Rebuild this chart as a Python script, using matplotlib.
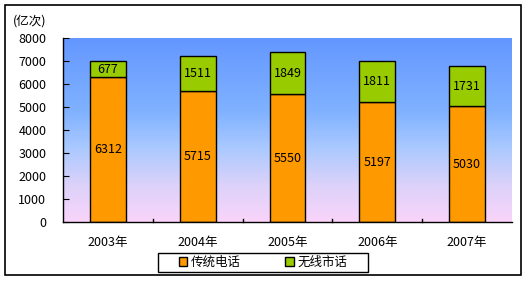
import matplotlib
matplotlib.use("Agg")
import matplotlib.pyplot as plt
import numpy as np
from matplotlib.colors import LinearSegmentedColormap
from matplotlib.patches import Rectangle

plt.rcParams['font.family'] = ['Noto Sans CJK SC', 'DejaVu Sans']

years = ['2003年', '2004年', '2005年', '2006年', '2007年']
traditional = [6312, 5715, 5550, 5197, 5030]
wireless = [677, 1511, 1849, 1811, 1731]
series_names = ['传统电话', '无线市话']
yticks = [0, 1000, 2000, 3000, 4000, 5000, 6000, 7000, 8000]

fig = plt.figure(figsize=(5.28, 2.81), dpi=100)
# outer frame
fig.patches.append(Rectangle((5/528, 1 - 275/281), (521-5)/528, (275-5)/281,
                             transform=fig.transFigure, fill=False, lw=1.2, ec='black'))
# legend frame
fig.patches.append(Rectangle((158/528, 1 - 272/281), (368-158)/528, (272-253)/281,
                             transform=fig.transFigure, fill=False, lw=1, ec='black'))

ax = fig.add_axes([63/528, 1 - 222/281, (512-63)/528, (222-38)/281])
x = np.arange(len(years))
ax.set_xlim(-0.5, len(years) - 0.5)
ax.set_ylim(0, 8000)

cmap = LinearSegmentedColormap.from_list('bg', [
    (0.0, '#FAD4FA'),
    (0.2, '#DCD2FA'),
    (0.4, '#ABC9FF'),
    (0.6, '#80B2FF'),
    (1.0, '#6497FF'),
])
grad = np.linspace(0, 1, 256).reshape(-1, 1)
ax.imshow(grad, aspect='auto', cmap=cmap, origin='lower',
          extent=[-0.5, len(years) - 0.5, 0, 8000], zorder=0)

w = 0.4
b1 = ax.bar(x, traditional, w, color='#FF9900', edgecolor='black', lw=1, zorder=2, label=series_names[0])
b2 = ax.bar(x, wireless, w, bottom=traditional, color='#99CC00', edgecolor='black', lw=1, zorder=2, label=series_names[1])

for i in range(len(years)):
    ax.text(x[i], traditional[i] / 2, str(traditional[i]), ha='center', va='center', fontsize=9, zorder=3)
    ax.text(x[i], traditional[i] + wireless[i] / 2, str(wireless[i]), ha='center', va='center', fontsize=9, zorder=3)

ax.set_yticks(yticks)
ax.set_yticklabels([str(v) for v in yticks], fontsize=9)
ax.set_xticks(x)
ax.set_xticklabels(years, fontsize=9)
ax.tick_params(axis='x', length=0, pad=10)
ax.tick_params(axis='y', direction='in', length=4, pad=12)
for xb in np.arange(0.5, len(years) - 0.5, 1):
    ax.plot([xb, xb], [0, 120], color='black', lw=1, zorder=3, clip_on=False)

for s in ['top', 'right']:
    ax.spines[s].set_visible(False)
ax.spines['left'].set_linewidth(1)
ax.spines['bottom'].set_linewidth(1)
ax.spines['left'].set_zorder(4)
ax.spines['bottom'].set_zorder(4)

fig.text(13/528, 1 - 21/281, '(亿次)', fontsize=9, va='center', ha='left')

leg = fig.legend(handles=[b1, b2], labels=series_names, loc='center',
                 bbox_to_anchor=((158 + 368) / 2 / 528, 1 - 262.5/281), ncol=2,
                 fontsize=9, frameon=False,
                 handlelength=0.7, handleheight=0.7, handletextpad=0.3,
                 columnspacing=3.5, borderpad=0.25)

fig.savefig('out.png', dpi=100)
